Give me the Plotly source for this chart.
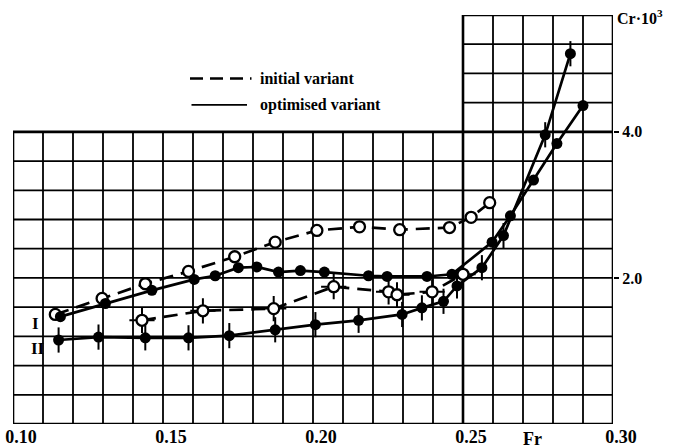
import plotly.graph_objects as go

# ---------------- data (Fr, Cr*10^3) ----------------
fr_I_init = [0.1141, 0.1297, 0.1441, 0.1585, 0.1739, 0.1874, 0.2013, 0.2155, 0.2289, 0.2455, 0.2527, 0.2589]
cr_I_init = [1.50, 1.72, 1.92, 2.09, 2.29, 2.49, 2.65, 2.70, 2.66, 2.69, 2.83, 3.03]

fr_I_opt = [0.1158, 0.1308, 0.1463, 0.1604, 0.1674, 0.1751, 0.1813, 0.1885, 0.1958, 0.2038,
            0.2185, 0.2247, 0.2380, 0.2463, 0.2597, 0.2658, 0.2735, 0.2813, 0.2900]
cr_I_opt = [1.47, 1.65, 1.83, 1.98, 2.03, 2.14, 2.15, 2.08, 2.10, 2.08,
            2.03, 2.02, 2.02, 2.05, 2.49, 2.85, 3.34, 3.84, 4.36]

fr_II_init = [0.1430, 0.1633, 0.1869, 0.2069, 0.2252, 0.2280, 0.2397, 0.2500]
cr_II_init = [1.42, 1.55, 1.58, 1.88, 1.81, 1.77, 1.81, 2.05]

fr_II_opt = [0.1152, 0.1285, 0.1441, 0.1585, 0.1721, 0.1874, 0.2008, 0.2152, 0.2297, 0.2363,
             0.2435, 0.2480, 0.2563, 0.2635, 0.2774, 0.2858]
cr_II_opt = [1.15, 1.19, 1.18, 1.18, 1.21, 1.29, 1.36, 1.42, 1.50, 1.59,
             1.68, 1.89, 2.14, 2.58, 3.96, 5.07]

x_tick_vals = [0.10, 0.15, 0.20, 0.25, 0.30]
x_tick_text = ["0.10", "0.15", "0.20", "0.25", "0.30"]
y_tick_vals = [2.0, 4.0]
y_tick_text = ["2.0", "4.0"]

legend_labels = ["initial variant", "optimised variant"]
curve_labels = ["I", "II"]

# ---------------- figure ----------------
SERIF = "Liberation Serif"
fig = go.Figure()

X0, X1, XB = 0.10, 0.30, 0.25
Y0, YM, YT = 0.0, 4.0, 5.6
shapes = []
for i in range(21):
    xv = round(X0 + 0.01 * i, 2)
    top = YT if xv >= XB else YM
    border = xv in (X0, X1, XB)
    shapes.append(dict(type="line", xref="x", yref="y", x0=xv, x1=xv, y0=Y0, y1=top,
                       line=dict(color="black", width=2.6 if border else 1.8), layer="below"))
for j in range(15):
    yv = round(0.4 * j, 2)
    left = X0 if yv <= YM else XB
    border = yv in (Y0, YM, YT)
    right = X1 + 0.0015 if yv == YT else X1
    shapes.append(dict(type="line", xref="x", yref="y", x0=left, x1=right, y0=yv, y1=yv,
                       line=dict(color="black", width=2.6 if border else 1.8), layer="below"))

# legend samples
shapes.append(dict(type="line", xref="x", yref="y", x0=0.1590, x1=0.1795, y0=4.73, y1=4.73,
                   line=dict(color="black", width=2.4, dash="13px,7px")))
shapes.append(dict(type="line", xref="x", yref="y", x0=0.1595, x1=0.1780, y0=4.37, y1=4.37,
                   line=dict(color="black", width=1.6)))

LW = 2.7
MS = 11

def flagged(x, y, symbol):
    fig.add_trace(go.Scatter(x=x, y=y, mode="markers", cliponaxis=False, showlegend=False,
                             hoverinfo="skip",
                             marker=dict(symbol=symbol, size=18, color="black",
                                         line=dict(color="black", width=2))))

flagged(fr_II_init, cr_II_init, "cross-thin-open")
flagged(fr_II_opt, cr_II_opt, "line-ns-open")

fig.add_trace(go.Scatter(x=fr_II_init, y=cr_II_init, mode="lines+markers", cliponaxis=False,
                         line=dict(color="black", width=LW, dash="14px,8px"),
                         marker=dict(symbol="circle", size=MS, color="white",
                                     line=dict(color="black", width=2.3)),
                         name="II initial", showlegend=False))
fig.add_trace(go.Scatter(x=fr_II_opt, y=cr_II_opt, mode="lines+markers", cliponaxis=False,
                         line=dict(color="black", width=LW),
                         marker=dict(symbol="circle", size=MS, color="black"),
                         name="II optimised", showlegend=False))
fig.add_trace(go.Scatter(x=fr_I_init, y=cr_I_init, mode="lines+markers", cliponaxis=False,
                         line=dict(color="black", width=LW, dash="14px,8px"),
                         marker=dict(symbol="circle", size=MS, color="white",
                                     line=dict(color="black", width=2.3)),
                         name="I initial", showlegend=False))
fig.add_trace(go.Scatter(x=fr_I_opt, y=cr_I_opt, mode="lines+markers", cliponaxis=False,
                         line=dict(color="black", width=LW),
                         marker=dict(symbol="circle", size=MS, color="black"),
                         name="I optimised", showlegend=False))

bold = dict(family=SERIF, size=16, color="black", weight="bold")
annotations = [
    dict(x=0.1815, y=4.73, xref="x", yref="y", text=legend_labels[0], showarrow=False,
         xanchor="left", yanchor="middle", font=bold),
    dict(x=0.1815, y=4.37, xref="x", yref="y", text=legend_labels[1], showarrow=False,
         xanchor="left", yanchor="middle", font=bold),
    dict(x=0.1074, y=1.37, xref="x", yref="y", text=curve_labels[0], showarrow=False,
         xanchor="center", yanchor="middle", font=dict(bold, size=17)),
    dict(x=0.1082, y=1.03, xref="x", yref="y", text=curve_labels[1], showarrow=False,
         xanchor="center", yanchor="middle", font=dict(bold, size=17)),
    dict(x=X1, y=YT, xref="x", yref="y", text="Cr·10<sup>3</sup>", showarrow=False,
         xanchor="left", yanchor="middle", xshift=2, yshift=-2, font=dict(bold, size=16)),
    dict(x=0.2733, y=0, xref="x", yref="paper", text="Fr", showarrow=False,
         xanchor="center", yanchor="top", yshift=-3, font=dict(bold, size=18)),
]

fig.update_layout(
    width=677, height=448,
    margin=dict(l=13, r=64, t=15, b=24, autoexpand=False),
    paper_bgcolor="white", plot_bgcolor="white",
    shapes=shapes, annotations=annotations, showlegend=False,
    xaxis=dict(range=[X0, X1], showgrid=False, zeroline=False, showline=False,
               tickvals=x_tick_vals, ticktext=x_tick_text, ticks="",
               ticklabelshift=8, ticklabelstandoff=0, automargin=False,
               ticklabeloverflow="allow",
               tickfont=dict(family=SERIF, size=18, color="black", weight="bold")),
    yaxis=dict(range=[Y0, YT], showgrid=False, zeroline=False, showline=False,
               side="right", tickvals=y_tick_vals, ticktext=y_tick_text,
               ticks="outside", ticklen=5, tickwidth=2.4, tickcolor="black",
               automargin=False,
               tickfont=dict(family=SERIF, size=16, color="black", weight="bold")),
)

# remove the default 8px page margin so the figure fills the window exactly
fig.write_html("out.html", config={"displayModeBar": False},
               post_script="document.body.style.margin='0';")
